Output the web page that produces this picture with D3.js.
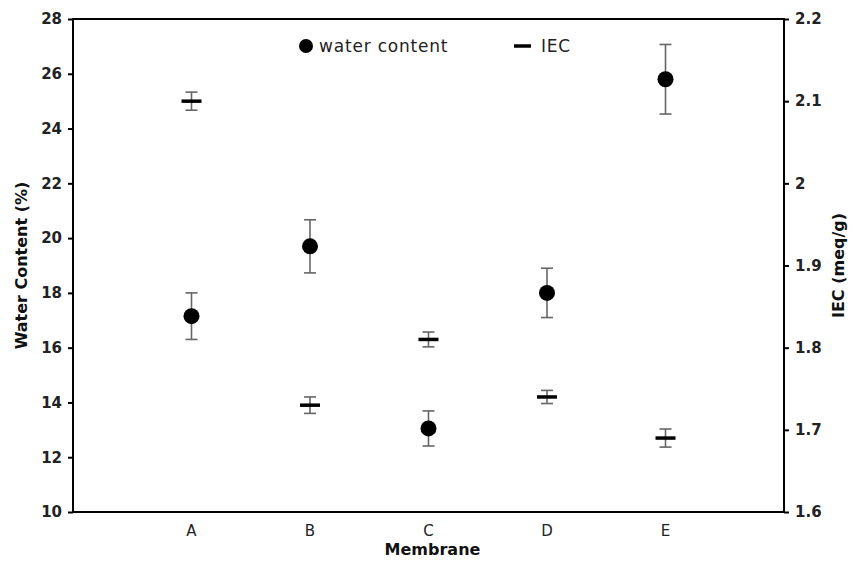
<!DOCTYPE html>
<html>
<head>
<meta charset="utf-8">
<script src="https://cdn.jsdelivr.net/npm/d3@7"></script>
<style>
  body { margin: 0; background: #fff; }
  text { font-family: "DejaVu Sans", Verdana, sans-serif; }
</style>
</head>
<body>
<script>
// data
var membranes = ["A", "B", "C", "D", "E"];
var waterContent = [17.15, 19.7, 13.05, 18.0, 25.8];
var waterErr = [0.85, 0.97, 0.64, 0.9, 1.27];
var iec = [2.10, 1.73, 1.81, 1.74, 1.69];
var iecErr = [0.011, 0.01, 0.009, 0.008, 0.011];
var leftTicks = [10, 12, 14, 16, 18, 20, 22, 24, 26, 28];
var rightTicks = [1.6, 1.7, 1.8, 1.9, 2.0, 2.1, 2.2];

var W = 857, H = 562;
var margin = {top: 19, right: 73, bottom: 50, left: 73};

var svg = d3.select("body").append("svg")
    .attr("width", W)
    .attr("height", H);

var x = d3.scaleLinear().domain([0, membranes.length + 1]).range([margin.left, W - margin.right]);
var yL = d3.scaleLinear().domain([10, 28]).range([H - margin.bottom, margin.top]);
var yR = d3.scaleLinear().domain([1.6, 2.2]).range([H - margin.bottom, margin.top]);

var data = membranes.map(function(m, i) {
  return {m: m, pos: i + 1, w: waterContent[i], we: waterErr[i], iec: iec[i], ie: iecErr[i]};
});

// frame
svg.append("rect")
  .attr("x", x(0)).attr("y", yL(28))
  .attr("width", x(membranes.length + 1) - x(0))
  .attr("height", yL(10) - yL(28))
  .attr("fill", "none").attr("stroke", "#000").attr("stroke-width", 2);

var leftAxis = svg.append("g")
  .attr("transform", "translate(" + x(0) + ",0)")
  .call(d3.axisLeft(yL).tickValues(leftTicks).tickSize(5).tickPadding(6).tickFormat(d3.format("d")));

var rightAxis = svg.append("g")
  .attr("transform", "translate(" + x(membranes.length + 1) + ",0)")
  .call(d3.axisRight(yR).tickValues(rightTicks).tickSize(5).tickPadding(6)
    .tickFormat(function(d) { return d3.format(".1f")(d).replace(".0", ""); }));

[leftAxis, rightAxis].forEach(function(g) {
  g.select(".domain").remove();
  g.selectAll("line").attr("stroke", "#000").attr("stroke-width", 2);
  g.selectAll("text").attr("font-size", 15).attr("font-weight", "bold")
    .attr("font-family", "'DejaVu Sans', Verdana, sans-serif").attr("fill", "#222");
});

// category labels
svg.selectAll(".cat")
  .data(data)
  .enter().append("text")
  .attr("class", "cat")
  .attr("x", function(d) { return x(d.pos); })
  .attr("y", yL(10) + 24)
  .attr("text-anchor", "middle")
  .attr("font-size", 15)
  .attr("fill", "#222")
  .text(function(d) { return d.m; });

// axis titles
svg.append("text")
  .attr("x", (x(0) + x(6)) / 2 + 4).attr("y", 555)
  .attr("text-anchor", "middle").attr("font-size", 16).attr("font-weight", "bold")
  .attr("fill", "#111").text("Membrane");

svg.append("text")
  .attr("transform", "translate(27," + ((yL(10) + yL(28)) / 2) + ") rotate(-90)")
  .attr("text-anchor", "middle").attr("font-size", 16).attr("font-weight", "bold")
  .attr("fill", "#111").text("Water Content (%)");

svg.append("text")
  .attr("transform", "translate(844," + ((yL(10) + yL(28)) / 2) + ") rotate(-90)")
  .attr("text-anchor", "middle").attr("font-size", 16).attr("font-weight", "bold")
  .attr("fill", "#111").text("IEC (meq/g)");

// error bars
var errColor = "#666";
function errBars(cls, yScale, val, err) {
  var g = svg.selectAll("." + cls).data(data).enter().append("g").attr("class", cls);
  g.append("line")
    .attr("x1", function(d) { return x(d.pos); }).attr("x2", function(d) { return x(d.pos); })
    .attr("y1", function(d) { return yScale(d[val] - d[err]); })
    .attr("y2", function(d) { return yScale(d[val] + d[err]); });
  g.append("line")
    .attr("x1", function(d) { return x(d.pos) - 6; }).attr("x2", function(d) { return x(d.pos) + 6; })
    .attr("y1", function(d) { return yScale(d[val] + d[err]); })
    .attr("y2", function(d) { return yScale(d[val] + d[err]); });
  g.append("line")
    .attr("x1", function(d) { return x(d.pos) - 6; }).attr("x2", function(d) { return x(d.pos) + 6; })
    .attr("y1", function(d) { return yScale(d[val] - d[err]); })
    .attr("y2", function(d) { return yScale(d[val] - d[err]); });
  g.selectAll("line").attr("stroke", errColor).attr("stroke-width", 1.6);
}
errBars("werr", yL, "w", "we");
errBars("ierr", yR, "iec", "ie");

// water content markers
svg.selectAll(".wdot")
  .data(data)
  .enter().append("circle")
  .attr("class", "wdot")
  .attr("cx", function(d) { return x(d.pos); })
  .attr("cy", function(d) { return yL(d.w); })
  .attr("r", 8)
  .attr("fill", "#000");

// IEC markers
svg.selectAll(".idash")
  .data(data)
  .enter().append("line")
  .attr("class", "idash")
  .attr("x1", function(d) { return x(d.pos) - 10; })
  .attr("x2", function(d) { return x(d.pos) + 10; })
  .attr("y1", function(d) { return yR(d.iec); })
  .attr("y2", function(d) { return yR(d.iec); })
  .attr("stroke", "#000").attr("stroke-width", 3.5);

// legend
var leg = svg.append("g");
leg.append("circle").attr("cx", 306).attr("cy", 46).attr("r", 7).attr("fill", "#000");
leg.append("text").attr("x", 319).attr("y", 52).attr("font-size", 17).attr("letter-spacing", 0.8)
  .attr("fill", "#222").text("water content");
leg.append("line").attr("x1", 514).attr("x2", 531).attr("y1", 46).attr("y2", 46)
  .attr("stroke", "#000").attr("stroke-width", 3.5);
leg.append("text").attr("x", 541).attr("y", 52).attr("font-size", 17).attr("letter-spacing", 0.8)
  .attr("fill", "#222").text("IEC");
</script>
</body>
</html>
